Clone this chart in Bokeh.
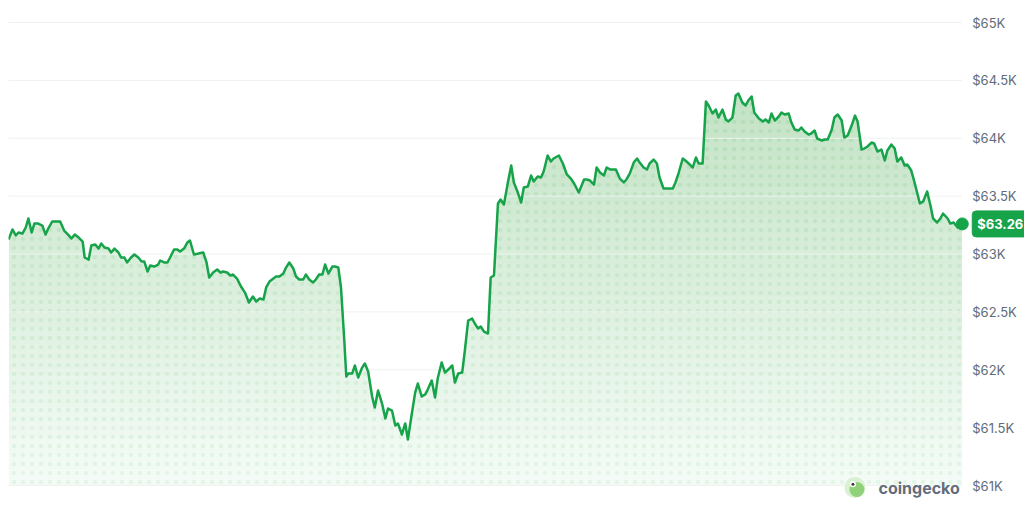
import numpy as np
from bokeh.plotting import figure
from bokeh.models import Range1d, Label
from bokeh.core.properties import value
from bokeh.embed import file_html
from bokeh.resources import INLINE

# minutes since start of the 24h window
minutes = [
    0, 6, 11, 15, 21, 26, 30, 35, 39, 45,
    51, 56, 60, 66, 72, 78, 84, 90, 95, 100,
    106, 112, 115, 121, 125, 131, 136, 140, 145, 151,
    155, 160, 166, 170, 175, 179, 185, 190, 196, 201,
    205, 210, 214, 220, 226, 229, 235, 240, 244, 250,
    255, 259, 265, 270, 274, 280, 287, 294, 299, 303,
    309, 315, 320, 324, 330, 335, 339, 345, 351, 357,
    363, 369, 374, 379, 385, 389, 394, 400, 404, 409,
    415, 419, 424, 430, 434, 439, 445, 449, 454, 460,
    464, 469, 474, 478, 483, 489, 493, 498, 502, 507,
    510, 513, 519, 523, 528, 534, 538, 543, 549, 553,
    558, 564, 569, 573, 579, 584, 588, 594, 599, 603,
    609, 614, 618, 624, 629, 633, 639, 644, 648, 654,
    659, 664, 670, 674, 679, 685, 689, 694, 700, 704,
    709, 713, 718, 724, 728, 733, 739, 743, 748, 754,
    759, 763, 769, 774, 778, 784, 789, 793, 799, 804,
    808, 814, 819, 823, 831, 837, 843, 849, 854, 861,
    869, 873, 878, 884, 888, 893, 899, 903, 909, 917,
    923, 929, 933, 938, 944, 949, 953, 959, 964, 968,
    974, 979, 983, 989, 995, 1003, 1007, 1012, 1018, 1022,
    1027, 1033, 1038, 1042, 1048, 1053, 1057, 1063, 1068, 1072,
    1078, 1083, 1087, 1093, 1098, 1102, 1108, 1113, 1117, 1122,
    1126, 1133, 1139, 1143, 1148, 1152, 1157, 1163, 1167, 1172,
    1178, 1182, 1187, 1193, 1197, 1202, 1208, 1212, 1217, 1221,
    1228, 1232, 1237, 1243, 1247, 1252, 1258, 1262, 1267, 1273,
    1278, 1282, 1288, 1292, 1297, 1303, 1307, 1312, 1318, 1323,
    1327, 1333, 1338, 1342, 1348, 1353, 1357, 1363, 1368, 1376,
    1381, 1387, 1392, 1396, 1402, 1407, 1411, 1418, 1422, 1427,
    1433, 1436, 1440,
]

# BTC price in USD
prices = [
    63125, 63212, 63160, 63186, 63177, 63229, 63307, 63186, 63263, 63263,
    63246, 63168, 63220, 63281, 63281, 63281, 63203, 63168, 63134, 63168,
    63142, 63108, 62970, 62952, 63073, 63082, 63047, 63091, 63056, 63047,
    63013, 63047, 63013, 62970, 62970, 62927, 62970, 62996, 62970, 62935,
    62935, 62849, 62901, 62892, 62909, 62944, 62927, 62927, 62970, 63039,
    63039, 63022, 63047, 63099, 63117, 62996, 63004, 63013, 62927, 62797,
    62840, 62866, 62840, 62849, 62840, 62814, 62823, 62788, 62719, 62667,
    62581, 62633, 62590, 62615, 62607, 62711, 62762, 62788, 62806, 62806,
    62831, 62883, 62927, 62875, 62806, 62780, 62780, 62823, 62780, 62754,
    62780, 62823, 62823, 62909, 62831, 62892, 62892, 62883, 62711, 62253,
    61942, 61968, 61968, 62037, 61933, 62019, 62054, 61985, 61769, 61674,
    61821, 61708, 61579, 61665, 61648, 61518, 61536, 61441, 61536, 61397,
    61622, 61803, 61881, 61769, 61786, 61829, 61907, 61760, 61924, 62063,
    61976, 62002, 62037, 61890, 61968, 61976, 62166, 62425, 62443, 62400,
    62356, 62374, 62330, 62313, 62797, 62814, 63436, 63471, 63428, 63618,
    63765, 63618, 63531, 63445, 63574, 63583, 63678, 63626, 63670, 63661,
    63713, 63851, 63799, 63825, 63851, 63782, 63687, 63652, 63609, 63531,
    63644, 63644, 63635, 63600, 63747, 63704, 63678, 63747, 63730, 63730,
    63652, 63618, 63644, 63695, 63790, 63825, 63790, 63747, 63730, 63782,
    63816, 63782, 63661, 63566, 63566, 63566, 63618, 63704, 63825, 63808,
    63782, 63747, 63834, 63782, 63782, 64317, 64283, 64214, 64248, 64179,
    64248, 64162, 64145, 64179, 64369, 64387, 64309, 64283, 64326, 64361,
    64222, 64171, 64145, 64162, 64136, 64214, 64153, 64188, 64222, 64205,
    64214, 64136, 64076, 64067, 64093, 64058, 64032, 64041, 64067, 63998,
    63980, 63989, 63989, 64076, 64179, 64205, 64153, 64006, 64024, 64110,
    64196, 64145, 63903, 63911, 63929, 63963, 63955, 63885, 63903, 63808,
    63894, 63946, 63911, 63799, 63834, 63765, 63773, 63721, 63618, 63436,
    63454, 63540, 63419, 63307, 63272, 63307, 63350, 63307, 63263, 63272,
    63229, 63263, 63260,
]

tick_values = [61000, 61500, 62000, 62500, 63000, 63500, 64000, 64500, 65000]
tick_labels = ["$61K", "$61.5K", "$62K", "$62.5K", "$63K", "$63.5K", "$64K", "$64.5K", "$65K"]
last_price_label = "$63.26"
brand = "coingecko"

GREEN = "#16a34a"
FILL = "#4cc160"
W, H = 1024, 512
Y0, Y1 = 60767, 65121

p = figure(
    width=W, height=H,
    output_backend="svg", toolbar_location=None,
    x_axis_location=None, y_axis_location=None,
    x_range=Range1d(0, 1534), y_range=Range1d(Y0, Y1),
    min_border_left=8, min_border_top=8, min_border_bottom=0, min_border_right=0,
)
p.outline_line_color = None
p.background_fill_color = "white"
p.border_fill_color = "white"
p.xgrid.visible = False
p.ygrid.visible = False

x = np.array(minutes, dtype=float)
y = np.array(prices, dtype=float)
base = tick_values[0]
x_end = minutes[-1]

# base fill with dotted texture
p.varea(x=x, y1=np.full_like(y, base), y2=y, fill_color=FILL, fill_alpha=0.06,
        hatch_pattern="dot", hatch_color=FILL, hatch_alpha=0.10, hatch_scale=9)

# vertical gradient: stacked translucent layers (darker toward the top)
for t in np.linspace(base, 64400, 26)[1:]:
    p.varea(x=x, y1=np.minimum(y, t), y2=y, fill_color=FILL, fill_alpha=0.0133)

# horizontal grid lines over the fill
n = len(tick_values)
p.segment(x0=[0] * n, x1=[x_end] * n, y0=tick_values, y1=tick_values,
          line_color="#eef3ef", line_width=1)

# price scale labels on the right
p.text(x=[x_end] * n, y=tick_values, text=tick_labels, x_offset=10,
       text_font=value("Inter"), text_font_size="13px", text_color="#5f6b7a",
       text_baseline="middle", text_align="left")

p.line(x, y, line_color=GREEN, line_width=2.5, line_join="round")
p.scatter([x_end], [prices[-1]], size=12, fill_color=GREEN, line_color=GREEN)

# last-price badge
p.text(x=[x_end], y=[prices[-1]], text=[last_price_label], x_offset=10,
       text_font=value("Inter"), text_font_size="13px", text_font_style="bold",
       text_color="white", text_baseline="middle", text_align="left",
       background_fill_color=GREEN, border_line_color=GREEN,
       padding=5, border_radius=4)

# coingecko logo
p.scatter([1278], [60983], size=21, fill_color="#d9f0d3", line_color=None)
p.scatter([1281], [60966], size=15, fill_color="#8fd27a", line_color=None)
p.scatter([1275], [61010], size=6, fill_color="white", line_color=None)
p.scatter([1275], [61010], size=3, fill_color="#3b3b3b", line_color=None)
p.add_layout(Label(
    x=870, y=25, x_units="screen", y_units="screen", text=brand,
    text_color="#626d7b", text_font="Inter", text_font_size="16px",
    text_font_style="bold", text_baseline="middle", text_align="left",
))

open("out.html", "w").write(file_html(p, INLINE))
